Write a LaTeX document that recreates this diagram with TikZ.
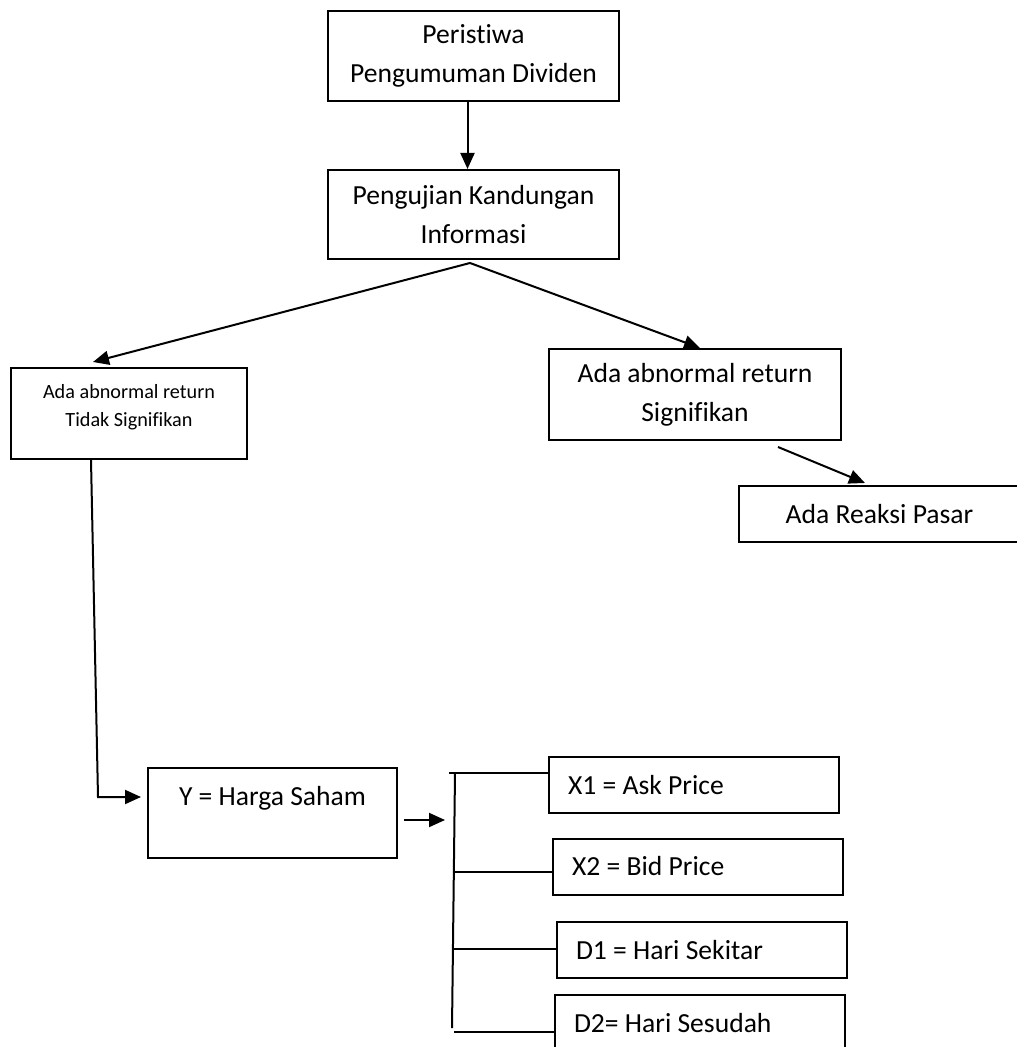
\documentclass[tikz,border=0pt]{standalone}
\usepackage{fontspec}
\setmainfont{Carlito}[Ligatures=NoCommon]
\usetikzlibrary{positioning,arrows.meta}
\begin{document}
\begin{tikzpicture}[
x=0.5pt, y=-0.5pt, line width=1pt,
>={Triangle[length=8pt,width=7pt]},
boite/.style={rectangle, draw=black, line width=1pt, font=\fontsize{13.8}{19.5}\selectfont, align=flush center},
boite2/.style={rectangle, draw=black, line width=1pt, font=\fontsize{13.8}{19.5}\selectfont, text width=126pt, inner xsep=9.5pt, align=flush left, minimum height=28pt},
]
    \useasboundingbox (0,0) rectangle (1016,1047);

    % Blocs
    \node [boite, minimum width=145.5pt, minimum height=45pt] (peristiwa) at (473.5,56) {Peristiwa\\Pengumuman Dividen};
    \node [boite, below of=peristiwa, node distance=79.25pt, minimum width=145.5pt, minimum height=44.5pt] (pengujian) {Pengujian Kandungan\\Informasi};
    \node [boite, font=\fontsize{10.1}{14}\selectfont, text width=110pt, inner xsep=4pt, inner ysep=0pt, text height=15pt, text depth=30.5pt] (tidaksig) at (129,413.5) {Ada abnormal return\\Tidak Signifikan};
    \node [boite, minimum width=146pt, minimum height=45.5pt] (signif) at (695,394.5) {Ada abnormal return\\Signifikan};
    \node [boite, minimum width=140.5pt, minimum height=28pt] (reaksi) at (879.5,514) {Ada Reaksi Pasar};
    \node [boite, text width=120.5pt, inner xsep=2pt, inner ysep=0pt, text height=18.85pt, text depth=26.15pt] (harga) at (272.5,813) {Y = Harga Saham};

    \node [boite2] (askprice) at (694,785) {X1 = Ask Price};
    \node [boite2, below of=askprice, node distance=40.75pt, xshift=2pt] (bidprice) {X2 = Bid Price};
    \node [boite2, below of=bidprice, node distance=41.75pt, xshift=2pt] (sekitar) {D1 = Hari Sekitar};
    \node [boite2, below of=sekitar, node distance=36.5pt, xshift=-1pt] (sesudah) {D2= Hari Sesudah};

    % Liens
    \draw [->] ([xshift=-3pt]peristiwa.south) -- ([xshift=-3pt]pengujian.north);
    \draw [->] ([xshift=-1.75pt,yshift=-1.5pt]pengujian.south) -- ([xshift=-18pt,yshift=2.5pt]tidaksig.north);
    \draw [->] ([xshift=-1.75pt,yshift=-1.5pt]pengujian.south) -- ([xshift=2.5pt]signif.north);
    \draw [->] ([xshift=41.5pt,yshift=-3pt]signif.south) -- ([xshift=-7.25pt,yshift=1pt]reaksi.north);

    \coordinate (belok) at (98,797);
    \draw [->] ([xshift=-19pt]tidaksig.south) -- (belok) -- ([xshift=-3pt,yshift=8pt]harga.west);

    \coordinate (cabang) at (445,820);
    \draw [->] ([xshift=3pt,yshift=-3.5pt]harga.east) -- (cabang);

    % Accolade vers les variables
    \coordinate (kurungatas) at (455,773);
    \coordinate (kurungbawah) at (452,1028);
    \draw (kurungatas) -- (kurungbawah);
    \foreach \nom/\dy/\long in {askprice/6/49.5, bidprice/-2.75/48.5, sekitar/0.5/51, sesudah/-4.5/50}
        \draw ([yshift=\dy pt]\nom.west) -- ++(-\long pt,0);
\end{tikzpicture}
\end{document}
